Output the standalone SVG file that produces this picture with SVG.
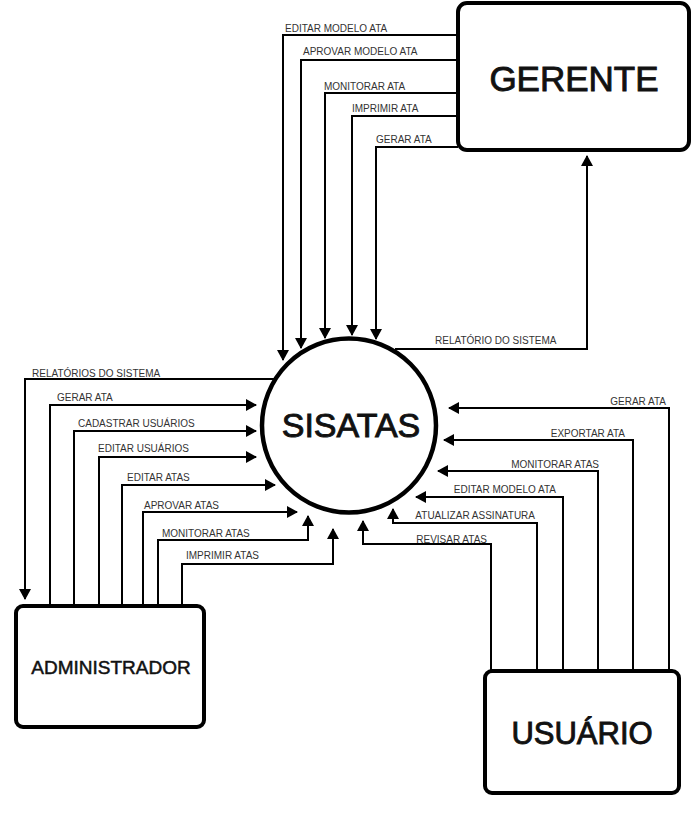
<svg xmlns="http://www.w3.org/2000/svg" width="696" height="814" viewBox="0 0 696 814">
<style>
.box{fill:#fff;stroke:#000;stroke-width:4}
.proc{fill:#fff;stroke:#000;stroke-width:4.5}
.big{font-family:"Liberation Sans",Arial,sans-serif;fill:#111;stroke:#111;stroke-width:0.9;text-anchor:middle}
.c{fill:none;stroke:#000;stroke-width:2}
.a{fill:none;stroke:#000;stroke-width:2;marker-end:url(#ah)}
.lbl{font-family:"Liberation Sans",Arial,sans-serif;font-size:10px;fill:#333}
.e{text-anchor:end}
</style>
<defs>
<marker id="ah" markerUnits="userSpaceOnUse" viewBox="0 0 11 12" markerWidth="11" markerHeight="12" refX="10" refY="6" orient="auto">
<path d="M0,0 L11,6 L0,12 z" fill="#000"/>
</marker>
</defs>
<rect width="696" height="814" fill="#fff"/>
<g id="connectors">
<path class="a" d="M458,35 H283 V360"/>
<path class="a" d="M458,60 H301 V348"/>
<path class="a" d="M458,93 H325 V338"/>
<path class="a" d="M458,116 H352 V335"/>
<path class="a" d="M458,147 H376 V339"/>
<path class="a" d="M395,349 H587 V156"/>
<path class="a" d="M275,379 H25 V599"/>
<path class="a" d="M50,606 V405 H256"/>
<path class="a" d="M74,606 V431 H256"/>
<path class="a" d="M99,606 V457 H256"/>
<path class="a" d="M122,606 V485 H275"/>
<path class="a" d="M143,606 V512 H297"/>
<path class="a" d="M158,606 V540 H308 V516"/>
<path class="a" d="M182,606 V564 H333 V529"/>
<path class="a" d="M669,671 V408 H449"/>
<path class="a" d="M633,671 V440 H444"/>
<path class="a" d="M598,671 V471 H438"/>
<path class="a" d="M563,671 V497 H416"/>
<path class="a" d="M537,671 V523 H393 V509"/>
<path class="a" d="M491,671 V544 H363 V521"/>
</g>
<g id="labels">
<text class="lbl" x="285" y="32">EDITAR MODELO ATA</text>
<text class="lbl" x="303" y="55">APROVAR MODELO ATA</text>
<text class="lbl" x="324" y="90">MONITORAR ATA</text>
<text class="lbl" x="352" y="112">IMPRIMIR ATA</text>
<text class="lbl" x="376" y="143">GERAR ATA</text>
<text class="lbl" x="435" y="344">RELATÓRIO DO SISTEMA</text>
<text class="lbl" x="32" y="377">RELATÓRIOS DO SISTEMA</text>
<text class="lbl" x="57" y="401">GERAR ATA</text>
<text class="lbl" x="78" y="427">CADASTRAR USUÁRIOS</text>
<text class="lbl" x="98" y="452">EDITAR USUÁRIOS</text>
<text class="lbl" x="127" y="481">EDITAR ATAS</text>
<text class="lbl" x="144" y="509">APROVAR ATAS</text>
<text class="lbl" x="162" y="537">MONITORAR ATAS</text>
<text class="lbl" x="186" y="559">IMPRIMIR ATAS</text>
<text class="lbl e" x="666" y="405">GERAR ATA</text>
<text class="lbl e" x="625" y="437">EXPORTAR ATA</text>
<text class="lbl e" x="599" y="468">MONITORAR ATAS</text>
<text class="lbl e" x="556" y="493">EDITAR MODELO ATA</text>
<text class="lbl e" x="535" y="519">ATUALIZAR ASSINATURA</text>
<text class="lbl e" x="487" y="543">REVISAR ATAS</text>
</g>
<g id="sisatas">
<circle class="proc" cx="349" cy="425.5" r="87"/>
<text class="big" x="351" y="437" font-size="34">SISATAS</text>
</g>
<g id="gerente">
<rect class="box" x="458" y="3" width="231" height="147" rx="9"/>
<text class="big" x="574" y="91" font-size="35">GERENTE</text>
</g>
<g id="administrador">
<rect class="box" x="16" y="606" width="188" height="121" rx="7"/>
<text class="big" x="111" y="674" font-size="19" style="stroke-width:0.5">ADMINISTRADOR</text>
</g>
<g id="usuario">
<rect class="box" x="485" y="671" width="194" height="122" rx="7"/>
<text class="big" x="582" y="744" font-size="31">USUÁRIO</text>
</g>
</svg>
